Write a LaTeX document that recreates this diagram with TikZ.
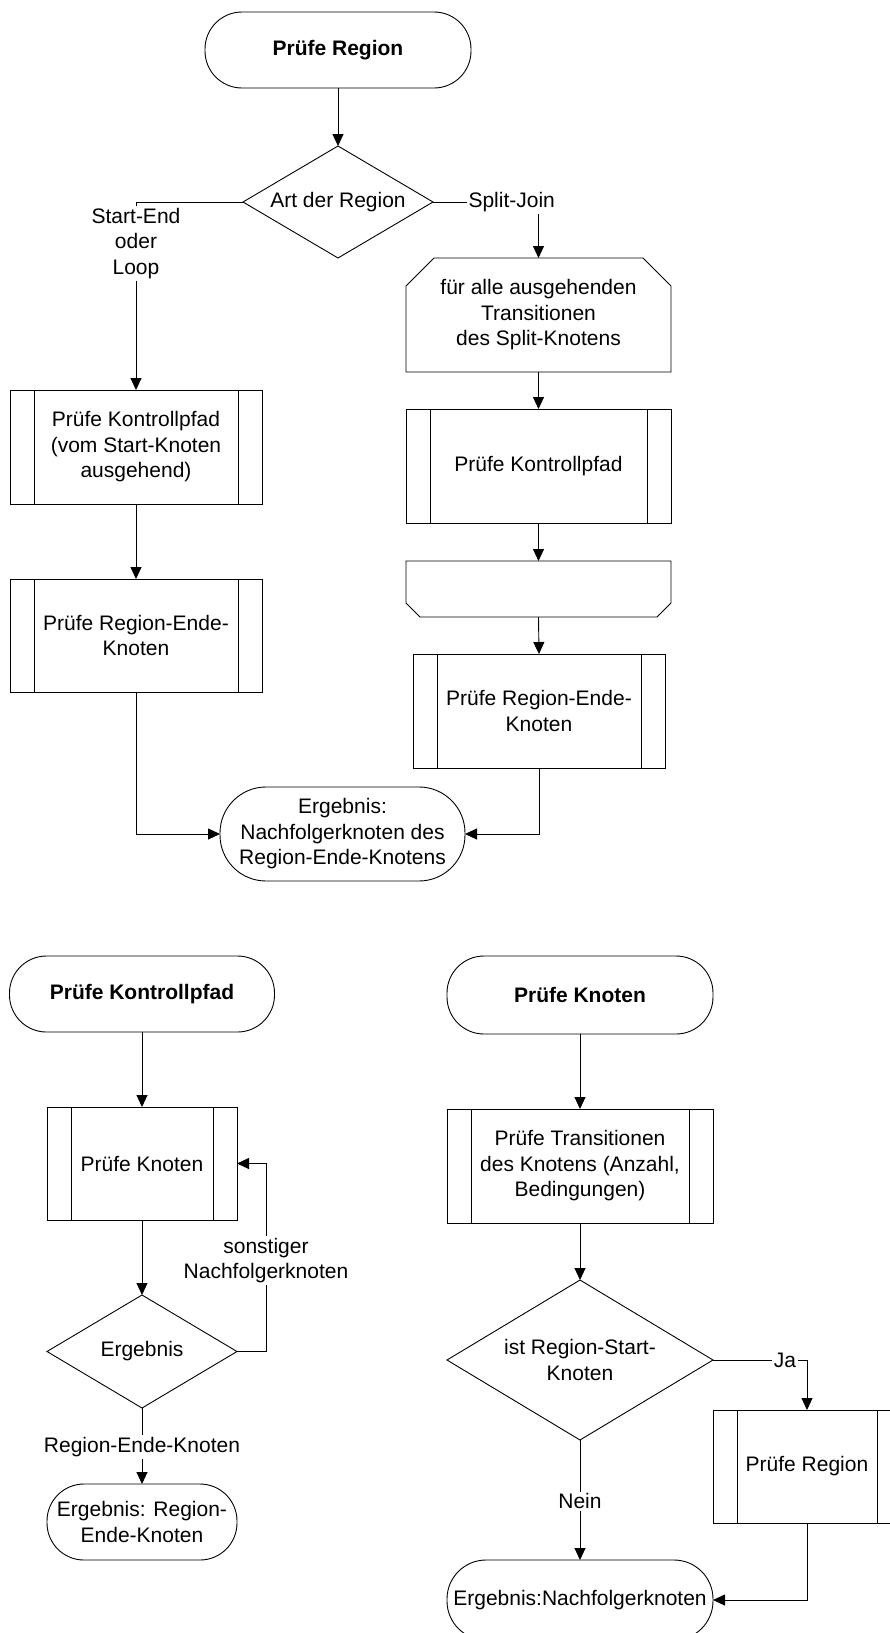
\documentclass[tikz,border=0pt]{standalone}
\usepackage{fontspec}
\setmainfont{Liberation Sans}
\usetikzlibrary{arrows.meta,shapes.geometric}

\tikzset{
  base/.style={font=\fontsize{21}{25.5}\selectfont, align=center, inner sep=0pt, outer sep=0pt},
  terminal/.style={base, draw, rectangle, rounded corners=#1},
  terminal/.default=37pt,
  subproc/.style={base, draw, rectangle,
    path picture={
      \draw ([xshift=24pt]path picture bounding box.north west) -- ([xshift=24pt]path picture bounding box.south west);
      \draw ([xshift=-24pt]path picture bounding box.north east) -- ([xshift=-24pt]path picture bounding box.south east);
    }},
  decision/.style={base, draw, diamond, aspect=1.7},
  loopbox/.style={base, rectangle},
  lbl/.style={font=\fontsize{21}{25.5}\selectfont, align=center, fill=white, inner sep=2pt},
  arr/.style={-{Triangle[length=12pt,width=11pt]}},
}

\begin{document}
\begin{tikzpicture}[x=1pt, y=-1pt, line width=0.9pt]
\useasboundingbox (0,0) rectangle (890,1633);
\clip (0,0) rectangle (890,1633);

% ---------- Prüfe Region ----------
\node[terminal, minimum width=266pt, minimum height=76pt, font=\fontsize{21}{25.5}\selectfont\bfseries] (s1) at (338,50) {Prüfe Region};
\node[decision, minimum width=190pt, minimum height=112pt] (d1) at (338,202) {Art der Region};

\node[subproc, minimum width=252pt, minimum height=114pt] (pk1) at (136,447) {Prüfe Kontrollpfad\\(vom Start-Knoten\\ausgehend)};
\node[subproc, minimum width=252pt, minimum height=113pt] (pr1) at (136,635.5) {Prüfe Region-Ende-\\Knoten};

% loop start (chamfered top corners)
\node[loopbox, minimum width=265pt, minimum height=114pt] (ls) at (538.5,315) {für alle ausgehenden\\Transitionen\\des Split-Knotens};
\draw ([yshift=-28pt]ls.north west) -- ([xshift=28pt]ls.north west) -- ([xshift=-28pt]ls.north east)
  -- ([yshift=-28pt]ls.north east) -- (ls.south east) -- (ls.south west) -- cycle;

\node[subproc, minimum width=265pt, minimum height=114pt] (pk2) at (538.5,466) {Prüfe Kontrollpfad};

% loop end (chamfered bottom corners)
\node[loopbox, minimum width=265pt, minimum height=56pt] (le) at (538.5,589) {};
\draw (le.north west) -- (le.north east) -- ([yshift=14pt]le.south east) -- ([xshift=-14pt]le.south east)
  -- ([xshift=14pt]le.south west) -- ([yshift=14pt]le.south west) -- cycle;

\node[subproc, minimum width=252pt, minimum height=114pt] (pr2) at (539,711) {Prüfe Region-Ende-\\Knoten};

\node[terminal=46pt, minimum width=245pt, minimum height=94pt] (r1) at (342.5,834) {Ergebnis:\\Nachfolgerknoten des\\Region-Ende-Knotens};

\draw[arr] (s1.south) -- (d1.north);
\draw[arr] (d1.west) -| node[lbl, pos=0.61] {Start-End\\oder\\Loop} (pk1.north);
\draw[arr] (d1.east) -| node[lbl, pos=0.373] {Split-Join} (ls.north);
\draw[arr] (pk1.south) -- (pr1.north);
\draw[arr] (ls.south) -- (pk2.north);
\draw[arr] (pk2.south) -- (le.north);
\draw[arr] (le.south) -- (pr2.north);
\draw[arr] (pr1.south) |- (r1.west);
\draw[arr] (pr2.south) |- (r1.east);

% ---------- Prüfe Kontrollpfad ----------
\node[terminal, minimum width=265pt, minimum height=76pt, font=\fontsize{21}{25.5}\selectfont\bfseries] (s2) at (142,994) {Prüfe Kontrollpfad};
\node[subproc, minimum width=190pt, minimum height=113pt] (pk3) at (142,1163.5) {Prüfe Knoten};
\node[decision, minimum width=190pt, minimum height=113pt] (d2) at (142,1351.5) {Ergebnis};
\node[terminal, minimum width=190pt, minimum height=76pt] (r2) at (142,1522) {Ergebnis: Region-\\Ende-Knoten};
\coordinate (fb) at (266,1351.5);

\draw[arr] (s2.south) -- (pk3.north);
\draw[arr] (pk3.south) -- (d2.north);
\draw[arr] (d2.east) -- (fb) |- node[lbl, pos=0.242] {sonstiger\\Nachfolgerknoten} (pk3.east);
\draw[arr] (d2.south) -- node[lbl, pos=0.51] {Region-Ende-Knoten} (r2.north);

% ---------- Prüfe Knoten ----------
\node[terminal, minimum width=266pt, minimum height=78pt, font=\fontsize{21}{25.5}\selectfont\bfseries] (s3) at (580,995) {Prüfe Knoten};
\node[subproc, minimum width=266pt, minimum height=114pt] (pt) at (580,1166) {Prüfe Transitionen\\des Knotens (Anzahl,\\Bedingungen)};
\node[decision, minimum width=266pt, minimum height=160pt, aspect=1.66] (d3) at (580,1360) {ist Region-Start-\\Knoten};
\node[subproc, minimum width=188pt, minimum height=113pt] (prg) at (807,1466.5) {Prüfe Region};
\node[terminal=39pt, minimum width=266pt, minimum height=80pt] (r3) at (580,1600) {Ergebnis:Nachfolgerknoten};

\draw[arr] (s3.south) -- (pt.north);
\draw[arr] (pt.south) -- (d3.north);
\draw[arr] (d3.east) -| node[lbl, pos=0.383] {Ja} (prg.north);
\draw[arr] (d3.south) -- node[lbl, pos=0.51] {Nein} (r3.north);
\draw[arr] (prg.south) |- (r3.east);
\end{tikzpicture}
\end{document}
